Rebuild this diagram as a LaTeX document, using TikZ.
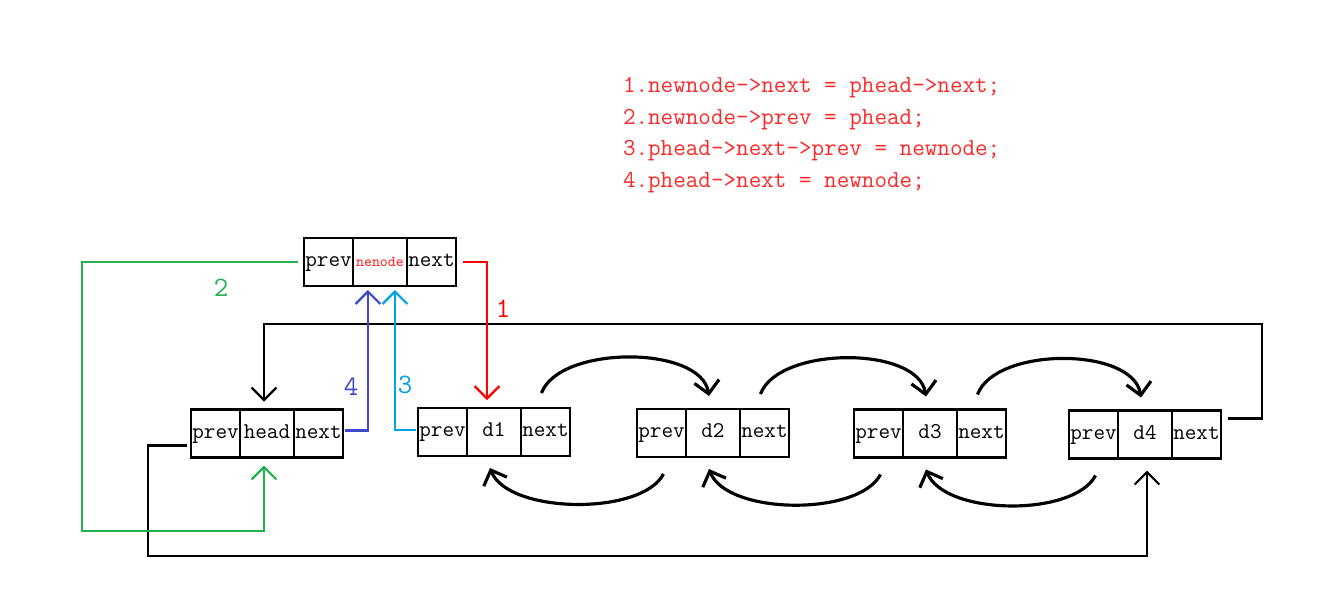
\documentclass[tikz,border=0pt]{standalone}
\usepackage{fontspec}
\usetikzlibrary{positioning,calc,arrows.meta}
\definecolor{pred}{RGB}{255,0,0}
\definecolor{pgreen}{RGB}{34,177,76}
\definecolor{pindigo}{RGB}{63,72,204}
\definecolor{pturq}{RGB}{0,162,232}
\definecolor{pink}{RGB}{255,40,40}
\tikzset{cell/.style={draw, line width=1.3pt, inner sep=0pt, outer sep=0pt,
    minimum width=0.98cm, minimum height=0.96cm, text height=1.6ex, text depth=.4ex,
    font=\ttfamily\fontsize{12.8}{14}\selectfont},
  wide/.style={minimum width=1.08cm},
  num/.style={font=\ttfamily\fontsize{16}{16}\selectfont},
  curvy/.style={line width=1.8pt}}
\begin{document}
\begin{tikzpicture}[x=0.02cm,y=-0.02cm,line width=1.3pt,
    >={Straight Barb[angle=90:10pt]}]
\useasboundingbox (0,0) rectangle (1325,609);
% steps
\node[pink, anchor=west, align=left, font=\ttfamily\fontsize{13.9}{18.1}\selectfont] (steps)
  at (616,135) {1.newnode->next = phead->next;\\2.newnode->prev = phead;\\
  3.phead->next->prev = newnode;\\4.phead->next = newnode;};
% new node
\node[cell] (np) at (328.5,262) {prev};
\node[cell,wide,right=0pt of np] (nd) {\textcolor{pink}{\fontsize{8.6}{8}\selectfont nenode}};
\node[cell,right=0pt of nd] (nn) {next};
% head
\node[cell] (hp) at (215.5,433.5) {prev};
\node[cell,wide,right=0pt of hp] (hd) {head};
\node[cell,right=0pt of hd] (hn) {next};
% d1 .. d4
\foreach \x/\y/\n in {442.5/432/1, 661.5/433/2, 878.5/433.5/3, 1093.5/434.5/4} {
  \node[cell] (p\n) at (\x,\y) {prev};
  \node[cell,wide,right=0pt of p\n] (d\n) {d\n};
  \node[cell,right=0pt of d\n] (n\n) {next};
}
\foreach \a/\b in {1/2,2/3,3/4} {
  \draw[curvy,->] ($(n\a.north)+(-4,-15)$) .. controls +(18,-48) and +(-8,-51) .. ($(d\b.north)+(-4,-13)$);
  \draw[curvy,->] ($(p\b.south)+(2,17)$) .. controls +(-22,42) and +(18,46) .. ($(d\a.south)+(-4,12)$);
}
% outer loops
\draw[->] ($(n4.east)+(7,-16)$) -| (1262,324) -| ($(hd.north)+(-3,-8)$);
\draw[->] ($(hp.west)+(-4,12)$) -| (148,556) -| ($(d4.south)+(2,12)$);
% steps drawn
\draw[pred,->] ($(nn.east)+(7,0)$) -| ($(d1.north)+(-7,-8)$);
\node[pred,num] (l1) at (503,309) {1};
\draw[pgreen,->] ($(np.west)+(-6,0)$) -| (82,531) -| ($(hd.south)+(-3,8)$);
\node[pgreen,num] (l2) at (221,288) {2};
\draw[pturq,->] ($(p1.west)+(-2,-2)$) -| ($(nd.south)+(15,4)$);
\node[pturq,num] (l3) at (405,385) {3};
\draw[pindigo,->] ($(hn.east)+(2,-3)$) -| ($(nd.south)+(-12,4)$);
\node[pindigo,num] (l4) at (351,387) {4};
\end{tikzpicture}
\end{document}
